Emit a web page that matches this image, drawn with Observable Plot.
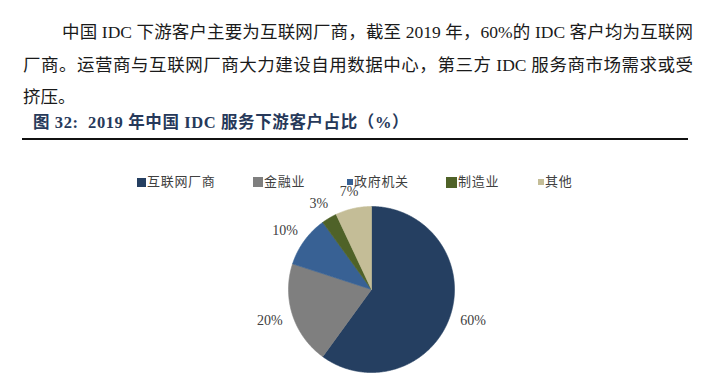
<!DOCTYPE html>
<html>
<head>
<meta charset="utf-8">
<script src="https://cdn.jsdelivr.net/npm/d3@7"></script>
<script src="https://cdn.jsdelivr.net/npm/@observablehq/plot@0.6"></script>
<style>
  html, body { margin:0; padding:0; background:#fff; }
  body { width:720px; height:379px; position:relative; overflow:hidden; }
  .para { position:absolute; font-family:"Liberation Serif","Noto Sans CJK SC",serif; font-size:17.5px; color:#1a1a1a; line-height:20px; white-space:nowrap; }
  .just { text-align:justify; text-align-last:justify; white-space:normal; }
  .heading { position:absolute; left:33px; top:113px; font-family:"Liberation Serif","Noto Sans CJK SC",serif; font-weight:bold; font-size:16.5px; color:#27395a; line-height:20px; white-space:nowrap; letter-spacing:0.6px; }
  .rule { position:absolute; left:22px; top:138px; width:666px; height:2px; background:#111; }
  .leg { position:absolute; font-family:"Noto Sans CJK SC",sans-serif; font-size:13px; color:#404040; line-height:16px; white-space:nowrap; letter-spacing:0.7px; }
  .sw { position:absolute; }
  #chart { position:absolute; left:0; top:140px; }
</style>
</head>
<body>
<div class="para just" style="left:62px; top:22px; width:631px;">中国 IDC 下游客户主要为互联网厂商，截至 2019 年，60%的 IDC 客户均为互联网</div>
<div class="para just" style="left:23px; top:55px; width:670px;">厂商。运营商与互联网厂商大力建设自用数据中心，第三方 IDC 服务商市场需求或受</div>
<div class="para" style="left:23px; top:87px;">挤压。</div>
<div class="heading">图 32:&nbsp; 2019 年中国 IDC 服务下游客户占比（%）</div>
<div class="rule"></div>
<div id="legend"></div>
<div id="chart"></div>
<script>
// ---- data ----
const categories = ["互联网厂商", "金融业", "政府机关", "制造业", "其他"];
const shares = [60, 20, 10, 3, 7];
const shareLabels = ["60%", "20%", "10%", "3%", "7%"];
const palette = ["#253f61", "#7f7f7f", "#386194", "#4f6228", "#c4bd97"];

// ---- legend (HTML) ----
const legendX = [137, 253, 347, 446, 538];
const legendSw = [9, 10, 6, 11, 6];
const legend = document.getElementById("legend");
categories.forEach((c, i) => {
  const s = legendSw[i];
  const sw = document.createElement("div");
  sw.className = "sw";
  sw.style.cssText = `left:${legendX[i]}px; top:${182 - s/2}px; width:${s}px; height:${s}px; background:${palette[i]};`;
  legend.appendChild(sw);
  const t = document.createElement("div");
  t.className = "leg";
  t.textContent = c;
  t.style.left = (legendX[i] + s + 1) + "px";
  t.style.top = "173px";
  legend.appendChild(t);
});

// ---- pie ----
const W = 720, H = 239, CX = 371, CY = 149, R = 83;
const rows = categories.map((cat, i) => ({cat, share: shares[i], label: shareLabels[i]}));
const arcs = d3.pie().sort(null).value(d => d.share)(rows);

const pts = [];
for (const a of arcs) {
  const cat = a.data.cat;
  pts.push({cat, x: 0, y: 0});
  const n = Math.max(2, Math.ceil((a.endAngle - a.startAngle) / (Math.PI / 360)));
  for (let k = 0; k <= n; k++) {
    const t = a.startAngle + (a.endAngle - a.startAngle) * k / n;
    pts.push({cat, x: Math.sin(t), y: Math.cos(t)});
  }
  pts.push({cat, x: 0, y: 0});
}

const gap = 11, boxH = 12;
const labelRows = arcs.map(a => {
  const m = (a.startAngle + a.endAngle) / 2;
  const lab = a.data.label;
  const w = (lab.length - 1) * 7 + 11.6;
  const sx = Math.sin(m), sy = Math.cos(m);
  return {
    label: lab,
    lx: sx * (1 + gap / R) + sx * (w / 2) / R,
    ly: sy * (1 + gap / R) + sy * (boxH / 2) / R
  };
});

const chart = Plot.plot({
  width: W, height: H,
  marginTop: 0, marginRight: 0, marginBottom: 0, marginLeft: 0,
  x: {domain: [-CX / R, (W - CX) / R], axis: null},
  y: {domain: [-(H - CY) / R, CY / R], axis: null},
  color: {domain: categories, range: palette},
  style: {background: "transparent", overflow: "visible"},
  marks: [
    Plot.line(pts, {x: "x", y: "y", z: "cat", fill: "cat", stroke: "cat", strokeWidth: 0.6, curve: "linear"}),
    Plot.text(labelRows, {x: "lx", y: "ly", text: "label", fontSize: 14, fill: "#404040",
      fontFamily: "Liberation Serif, serif", textAnchor: "middle", lineAnchor: "middle"})
  ]
});
document.getElementById("chart").appendChild(chart);
</script>
</body>
</html>
